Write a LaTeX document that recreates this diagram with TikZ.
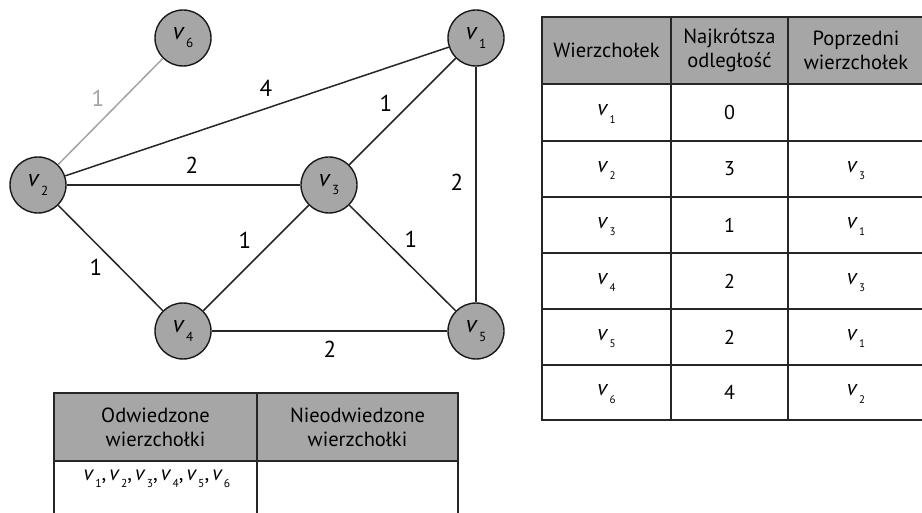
\documentclass[tikz,border=0pt]{standalone}
\usepackage{fontspec}
\usepackage{graphicx}
\setmainfont{PT Sans}
\definecolor{nodegray}{HTML}{A6A6A6}
\definecolor{headgray}{HTML}{A6A6A6}
\definecolor{edgegray}{HTML}{A3A3A3}
\newcommand\vx[2][0.5]{\textit{v}\kern0.05em\raisebox{-0.34em}{\scalebox{#1}{#2}}}
\begin{document}
\begin{tikzpicture}[x=1pt,y=-1pt,
  vert/.style={circle,draw=black!90,line width=1.4pt,fill=nodegray,minimum size=56pt,inner sep=0pt,font=\fontsize{24}{24}\selectfont},
  edge/.style={line width=1.5pt,draw=black!85},
  wlab/.style={font=\fontsize{23}{23}\selectfont,inner sep=0pt},
  cell/.style={font=\fontsize{20.5}{24}\selectfont,align=center,inner sep=0pt},
  vcell/.style={font=\fontsize{22}{24}\selectfont,inner sep=0pt},
  dcell/.style={font=\fontsize{20}{22}\selectfont,inner sep=0pt},
  tab/.style={line width=1.5pt,draw=black!85},
  ]
\useasboundingbox (0,0) rectangle (922,513);
% vertices
\node[vert] (v6) at (183,38) {\vx[0.55]{6}};
\node[vert] (v1) at (476,38) {\vx[0.55]{1}};
\node[vert] (v2) at (38,185) {\vx[0.55]{2}};
\node[vert] (v3) at (329,185) {\vx[0.55]{3}};
\node[vert] (v4) at (183,331) {\vx[0.55]{4}};
\node[vert] (v5) at (476,331) {\vx[0.55]{5}};
% edges
\draw[edge,draw=edgegray] (v2) -- (v6);
\draw[edge] (v2) -- (v1);
\draw[edge] (v2) -- (v3);
\draw[edge] (v2) -- (v4);
\draw[edge] (v3) -- (v1);
\draw[edge] (v3) -- (v4);
\draw[edge] (v3) -- (v5);
\draw[edge] (v1) -- (v5);
\draw[edge] (v4) -- (v5);
% edge weights
\node[wlab,text=edgegray] (w26) at (98,98) {1};
\node[wlab] (w21) at (266,88) {4};
\node[wlab] (w31) at (386,103) {1};
\node[wlab] (w23) at (192,165) {2};
\node[wlab] (w15) at (457,182) {2};
\node[wlab] (w24) at (96,267) {1};
\node[wlab] (w34) at (245,240) {1};
\node[wlab] (w35) at (411,239) {1};
\node[wlab] (w45) at (330,349) {2};
% right table
\fill[headgray] (542,17) rectangle (925,84);
\draw[tab] (542,17) rectangle (925,420);
\foreach \y in {84,141,197,253,309,365} \draw[tab] (542,\y) -- (925,\y);
\draw[tab] (671,17) -- (671,420);
\draw[tab] (788,17) -- (788,420);
\node[cell] (h1) at (606.5,50.5) {Wierzchołek};
\node[cell] (h2) at (729.5,50.5) {Najkrótsza\\odległość};
\node[cell] (h3) at (856,50.5) {Poprzedni\\wierzchołek};
\node[vcell] (r1a) at (606.5,114) {\vx{1}};
\node[dcell] (r1b) at (729.5,112.5) {0};
\node[vcell] (r2a) at (606.5,170.5) {\vx{2}};
\node[dcell] (r2b) at (729.5,169) {3};
\node[vcell] (r2c) at (856,170.5) {\vx{3}};
\node[vcell] (r3a) at (606.5,226.5) {\vx{3}};
\node[dcell] (r3b) at (729.5,225) {1};
\node[vcell] (r3c) at (856,226.5) {\vx{1}};
\node[vcell] (r4a) at (606.5,282.5) {\vx{4}};
\node[dcell] (r4b) at (729.5,281) {2};
\node[vcell] (r4c) at (856,282.5) {\vx{3}};
\node[vcell] (r5a) at (606.5,338.5) {\vx{5}};
\node[dcell] (r5b) at (729.5,337) {2};
\node[vcell] (r5c) at (856,338.5) {\vx{1}};
\node[vcell] (r6a) at (606.5,394) {\vx{6}};
\node[dcell] (r6b) at (729.5,392.5) {4};
\node[vcell] (r6c) at (856,394) {\vx{2}};
% bottom table
\fill[headgray] (54,393) rectangle (458,461);
\draw[tab] (54,520) -- (54,393) -- (458,393) -- (458,520);
\draw[tab] (54,461) -- (458,461);
\draw[tab] (257,393) -- (257,520);
\node[cell] (b1) at (155.5,427) {Odwiedzone\\wierzchołki};
\node[cell] (b2) at (357.5,427) {Nieodwiedzone\\wierzchołki};
\node[vcell,font=\fontsize{21}{22}\selectfont] (b3) at (157,479) {\vx[0.55]{1},\kern0.15em\vx[0.55]{2},\kern0.15em\vx[0.55]{3},\kern0.15em\vx[0.55]{4},\kern0.15em\vx[0.55]{5},\kern0.15em\vx[0.55]{6}};
\end{tikzpicture}
\end{document}
